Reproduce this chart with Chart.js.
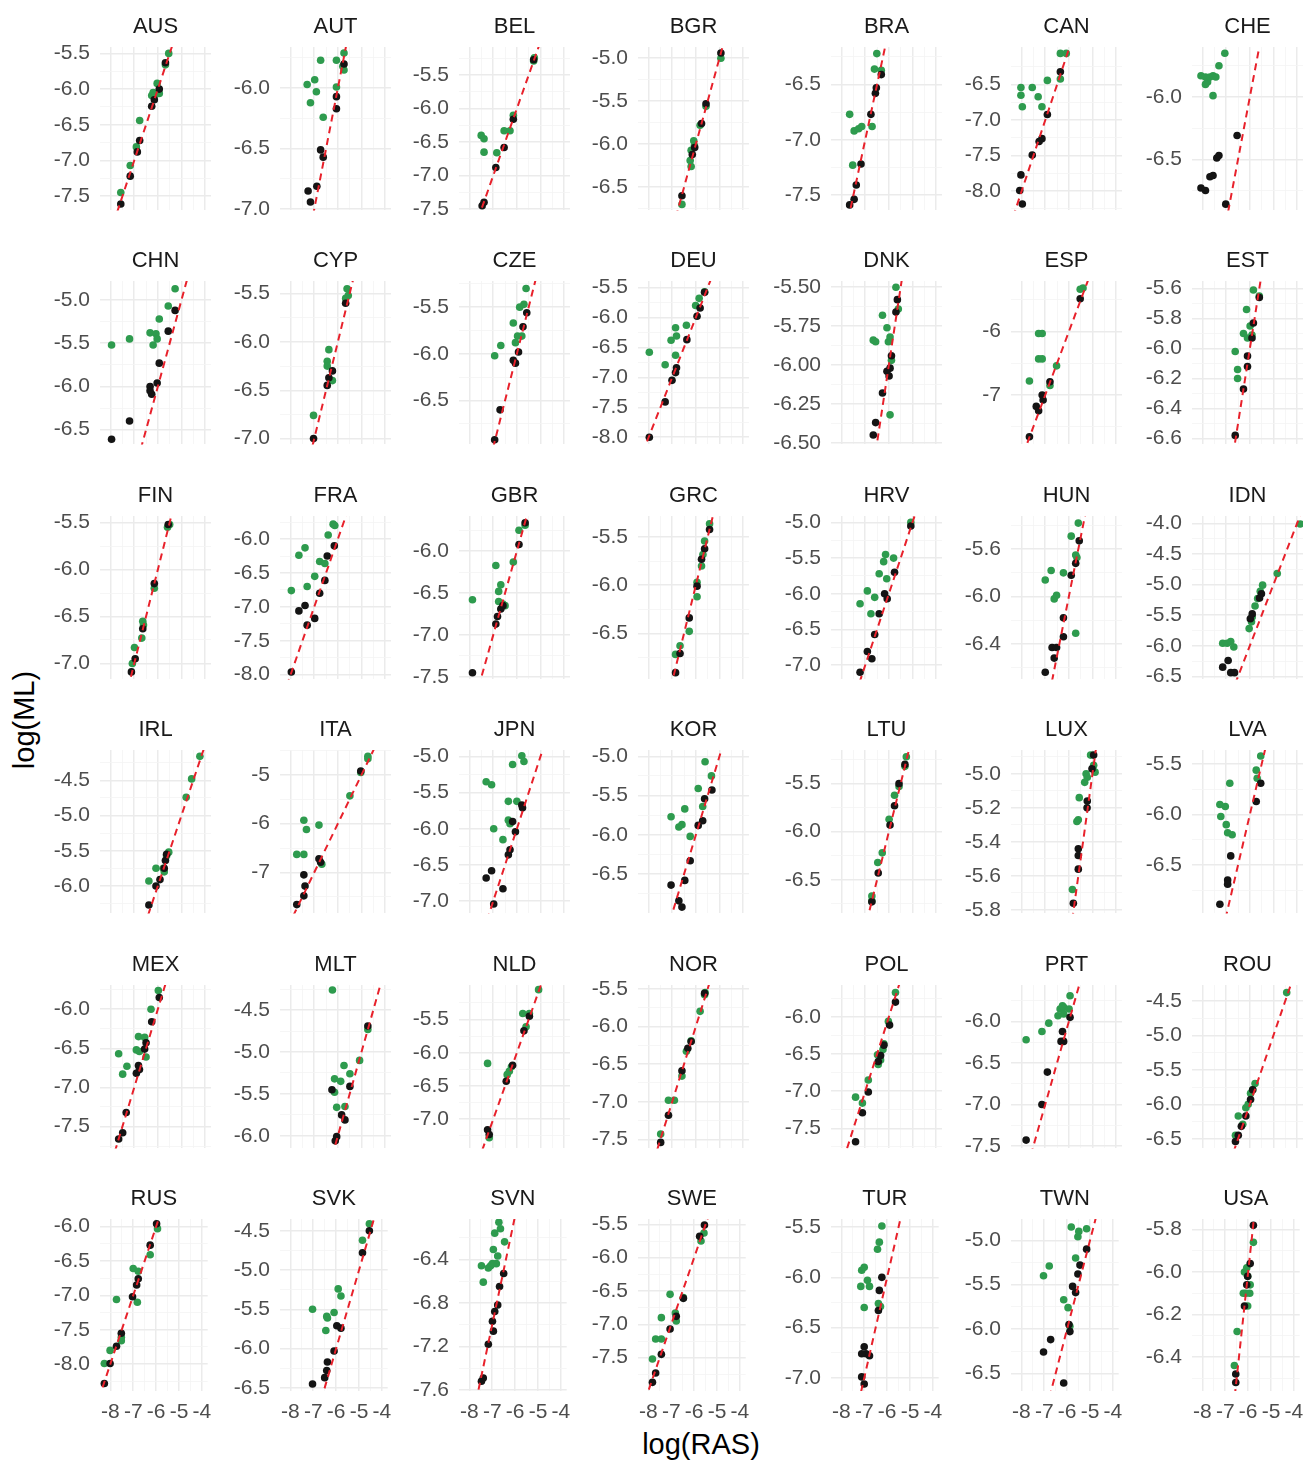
<!DOCTYPE html>
<html>
<head>
<meta charset="utf-8">
<title>log(ML) vs log(RAS) by country</title>
<script src="https://cdn.jsdelivr.net/npm/chart.js@4.4.1/dist/chart.umd.min.js"></script>
<style>
  html, body { margin: 0; padding: 0; background: #ffffff; }
  #fig { position: relative; width: 1308px; height: 1463px; overflow: hidden; background: #ffffff; }
  #fig canvas { position: absolute; }
  .axis-title { position: absolute; font-family: "Liberation Sans", Arial, sans-serif; color: #000; font-size: 29px; white-space: nowrap; }
  #xTitle { left: 551px; width: 300px; top: 1428px; text-align: center; }
  #yTitle { left: 24px; top: 720px; transform: translate(-50%, -50%) rotate(-90deg); }
</style>
</head>
<body>
<div id="fig">
  <div id="xTitle" class="axis-title">log(RAS)</div>
  <div id="yTitle" class="axis-title">log(ML)</div>
</div>
<script>
// ---- data -----------------------------------------------------------------
const countries = ["AUS","AUT","BEL","BGR","BRA","CAN","CHE",
                   "CHN","CYP","CZE","DEU","DNK","ESP","EST",
                   "FIN","FRA","GBR","GRC","HRV","HUN","IDN",
                   "IRL","ITA","JPN","KOR","LTU","LUX","LVA",
                   "MEX","MLT","NLD","NOR","POL","PRT","ROU",
                   "RUS","SVK","SVN","SWE","TUR","TWN","USA"];

const xTickValues = [-8, -7, -6, -5, -4];
const xLimits = [-8.45, -3.75];

// y = x reference line
const parityLine = [-9, -3];

const yTickLabels = [
  ["-5.5","-6.0","-6.5","-7.0","-7.5"], ["-6.0","-6.5","-7.0"], ["-5.5","-6.0","-6.5","-7.0","-7.5"],
  ["-5.0","-5.5","-6.0","-6.5"], ["-6.5","-7.0","-7.5"], ["-6.5","-7.0","-7.5","-8.0"], ["-6.0","-6.5"],
  ["-5.0","-5.5","-6.0","-6.5"], ["-5.5","-6.0","-6.5","-7.0"], ["-5.5","-6.0","-6.5"],
  ["-5.5","-6.0","-6.5","-7.0","-7.5","-8.0"], ["-5.50","-5.75","-6.00","-6.25","-6.50"], ["-6","-7"],
  ["-5.6","-5.8","-6.0","-6.2","-6.4","-6.6"],
  ["-5.5","-6.0","-6.5","-7.0"], ["-6.0","-6.5","-7.0","-7.5","-8.0"], ["-6.0","-6.5","-7.0","-7.5"],
  ["-5.5","-6.0","-6.5"], ["-5.0","-5.5","-6.0","-6.5","-7.0"], ["-5.6","-6.0","-6.4"],
  ["-4.0","-4.5","-5.0","-5.5","-6.0","-6.5"],
  ["-4.5","-5.0","-5.5","-6.0"], ["-5","-6","-7"], ["-5.0","-5.5","-6.0","-6.5","-7.0"],
  ["-5.0","-5.5","-6.0","-6.5"], ["-5.5","-6.0","-6.5"], ["-5.0","-5.2","-5.4","-5.6","-5.8"], ["-5.5","-6.0","-6.5"],
  ["-6.0","-6.5","-7.0","-7.5"], ["-4.5","-5.0","-5.5","-6.0"], ["-5.5","-6.0","-6.5","-7.0"],
  ["-5.5","-6.0","-6.5","-7.0","-7.5"], ["-6.0","-6.5","-7.0","-7.5"], ["-6.0","-6.5","-7.0","-7.5"],
  ["-4.5","-5.0","-5.5","-6.0","-6.5"],
  ["-6.0","-6.5","-7.0","-7.5","-8.0"], ["-4.5","-5.0","-5.5","-6.0","-6.5"], ["-6.4","-6.8","-7.2","-7.6"],
  ["-5.5","-6.0","-6.5","-7.0","-7.5"], ["-5.5","-6.0","-6.5","-7.0"], ["-5.0","-5.5","-6.0","-6.5"],
  ["-5.8","-6.0","-6.2","-6.4"]
];

const yLimits = [
  [-7.70,-5.41], [-7.01,-5.66], [-7.52,-5.08], [-6.77,-4.87], [-7.64,-6.16], [-8.27,-5.97], [-6.91,-5.60],
  [-6.67,-4.78], [-7.06,-5.37], [-6.97,-5.22], [-8.12,-5.39], [-6.51,-5.46], [-7.78,-5.20], [-6.64,-5.55],
  [-7.17,-5.43], [-8.07,-5.66], [-7.53,-5.58], [-6.98,-5.28], [-7.20,-4.91], [-6.70,-5.32], [-6.55,-3.88],
  [-6.39,-4.07], [-7.84,-4.49], [-7.17,-4.91], [-7.00,-4.92], [-6.85,-5.15], [-5.82,-4.86], [-6.98,-5.36],
  [-7.78,-5.69], [-6.15,-4.20], [-7.44,-4.98], [-7.62,-5.45], [-7.77,-5.57], [-7.53,-5.56], [-6.64,-4.27],
  [-8.39,-5.89], [-6.54,-4.35], [-7.61,-6.03], [-8.00,-5.42], [-7.13,-5.42], [-6.70,-4.76], [-6.56,-5.75]
];

// green series: [log(RAS), log(ML)]
const greenPoints = [
  /* AUS */ [[-7.57,-7.45],[-7.17,-7.07],[-6.77,-6.44],[-6.91,-6.81],[-6.26,-6.09],[-6.2,-6.05],[-6.03,-5.92],[-5.94,-6.06],[-5.68,-5.66],[-5.54,-5.5],[-6.12,-6.08]],
  /* AUT */ [[-7.30,-5.97],[-6.98,-5.93],[-6.91,-6.03],[-7.16,-6.12],[-6.73,-5.77],[-6.62,-6.24],[-6.06,-5.77],[-6.06,-5.99],[-5.74,-5.71],[-5.74,-5.85],[-5.79,-5.82]],
  /* BEL */ [[-7.51,-6.40],[-7.39,-6.45],[-7.39,-6.65],[-6.85,-6.66],[-6.54,-6.33],[-6.29,-6.33],[-6.15,-6.10],[-5.29,-5.29],[-5.26,-5.24]],
  /* BGR */ [[-6.59,-6.70],[-6.09,-5.96],[-6.2,-6.07],[-6.24,-6.19],[-6.2,-6.26],[-5.82,-5.78],[-5.57,-5.56],[-4.94,-5.0],[-6.06,-6.02]],
  /* BRA */ [[-7.66,-6.77],[-7.47,-6.92],[-7.28,-6.90],[-7.15,-6.88],[-7.53,-7.23],[-6.71,-6.88],[-6.51,-6.22],[-6.61,-6.36],[-6.32,-6.37]],
  /* CAN */ [[-8.03,-6.65],[-8.03,-6.54],[-7.97,-6.81],[-7.55,-6.54],[-7.30,-6.67],[-7.14,-6.81],[-6.91,-6.44],[-6.36,-6.42],[-6.36,-6.06],[-6.11,-6.06]],
  /* CHE */ [[-8.07,-5.83],[-7.88,-5.84],[-7.79,-5.88],[-7.88,-5.90],[-7.69,-5.84],[-7.56,-5.83],[-7.44,-5.84],[-7.56,-5.99],[-7.31,-5.75],[-7.06,-5.65]],
  /* CHN */ [[-7.96,-5.52],[-7.20,-5.45],[-6.33,-5.38],[-6.20,-5.52],[-6.08,-5.39],[-6.03,-5.45],[-5.94,-5.22],[-5.56,-5.07],[-5.27,-4.87]],
  /* CYP */ [[-7.03,-6.76],[-6.38,-6.08],[-6.45,-6.2],[-6.45,-6.25],[-6.23,-6.4],[-5.61,-5.45],[-5.56,-5.52],[-5.67,-5.55]],
  /* CZE */ [[-6.94,-6.02],[-6.68,-5.91],[-6.15,-5.67],[-6.06,-5.88],[-5.97,-5.81],[-5.88,-5.5],[-5.70,-5.47],[-5.61,-5.30],[-5.79,-5.81]],
  /* DEU */ [[-7.97,-6.58],[-7.30,-6.79],[-7.05,-6.38],[-6.86,-6.17],[-6.82,-6.31],[-6.86,-6.63],[-6.40,-6.13],[-6.01,-5.80],[-5.86,-5.68],[-5.63,-5.57]],
  /* DNK */ [[-5.70,-5.50],[-6.27,-5.68],[-6.08,-5.76],[-6.66,-5.84],[-6.56,-5.85],[-6.02,-5.85],[-5.95,-5.82],[-5.60,-5.64],[-5.89,-5.97],[-5.95,-6.32]],
  /* ESP */ [[-7.67,-6.78],[-7.28,-6.03],[-7.13,-6.03],[-7.28,-6.43],[-7.13,-6.43],[-6.52,-6.54],[-6.80,-6.85],[-5.52,-5.33],[-5.40,-5.31]],
  /* EST */ [[-5.85,-5.61],[-5.60,-5.65],[-6.14,-5.74],[-5.99,-5.85],[-6.27,-5.90],[-6.10,-5.93],[-6.62,-6.02],[-6.52,-6.14],[-6.52,-6.20],[-5.91,-5.91]],
  /* FIN */ [[-7.08,-7.0],[-6.99,-6.83],[-6.68,-6.73],[-6.64,-6.55],[-6.61,-6.59],[-6.15,-6.2],[-5.59,-5.55],[-5.50,-5.52]],
  /* FRA */ [[-7.97,-6.76],[-7.65,-6.24],[-7.39,-6.13],[-7.30,-6.70],[-6.98,-6.55],[-6.77,-6.33],[-6.55,-6.36],[-6.41,-5.94],[-6.2,-5.78],[-6.13,-5.80]],
  /* GBR */ [[-7.88,-6.58],[-6.89,-6.17],[-6.77,-6.48],[-6.68,-6.40],[-6.77,-6.60],[-6.59,-6.63],[-6.5,-6.65],[-6.15,-6.13],[-5.91,-5.75],[-5.65,-5.69]],
  /* GRC */ [[-6.86,-6.72],[-6.67,-6.63],[-6.28,-6.48],[-5.95,-5.97],[-5.95,-6.12],[-5.76,-5.80],[-5.70,-5.68],[-5.63,-5.54],[-5.42,-5.36]],
  /* HRV */ [[-7.22,-6.14],[-6.91,-5.96],[-6.60,-6.05],[-6.76,-6.28],[-6.41,-5.72],[-6.22,-5.55],[-6.14,-5.45],[-6.09,-5.79],[-5.80,-5.5],[-5.07,-5.0]],
  /* HUN */ [[-7.0,-5.86],[-6.75,-5.78],[-6.62,-6.02],[-6.52,-5.99],[-6.23,-5.80],[-5.90,-5.49],[-5.71,-5.65],[-5.60,-5.38],[-5.71,-6.31],[-5.66,-5.67]],
  /* IDN */ [[-7.15,-5.96],[-6.96,-5.96],[-6.81,-5.93],[-6.68,-6.02],[-6.03,-5.72],[-5.93,-5.61],[-5.90,-5.53],[-5.78,-5.35],[-5.67,-5.23],[-5.56,-5.11],[-5.46,-5.01],[-4.84,-4.82],[-3.87,-4.01]],
  /* IRL */ [[-6.38,-5.93],[-6.08,-5.75],[-5.77,-5.75],[-5.73,-5.80],[-5.54,-5.52],[-5.63,-5.57],[-4.80,-4.74],[-4.57,-4.48],[-4.22,-4.16]],
  /* ITA */ [[-7.74,-6.63],[-7.44,-6.63],[-7.44,-5.93],[-7.33,-6.12],[-6.80,-6.03],[-6.68,-6.83],[-5.49,-5.43],[-5.03,-4.95],[-4.73,-4.62],[-4.73,-4.67]],
  /* JPN */ [[-7.30,-5.35],[-7.07,-5.39],[-6.98,-6.0],[-6.59,-6.15],[-6.36,-5.62],[-6.36,-5.88],[-6.29,-5.93],[-6.18,-5.11],[-6.0,-5.62],[-5.79,-4.99],[-5.70,-5.07]],
  /* KOR */ [[-7.05,-5.77],[-6.72,-5.9],[-6.59,-5.87],[-6.47,-5.67],[-6.24,-6.02],[-5.90,-5.41],[-5.71,-5.64],[-5.61,-5.07],[-5.34,-5.25]],
  /* LTU */ [[-6.72,-6.67],[-6.72,-6.72],[-6.47,-6.32],[-6.28,-6.22],[-5.99,-5.87],[-5.76,-5.62],[-5.57,-5.53],[-5.32,-5.32],[-5.26,-5.22]],
  /* LUX */ [[-5.85,-5.68],[-5.60,-5.27],[-5.56,-5.14],[-5.33,-5.05],[-5.27,-5.0],[-5.22,-5.02],[-5.08,-4.89],[-4.99,-4.97],[-4.95,-4.95],[-4.89,-4.99],[-5.66,-5.28]],
  /* LVA */ [[-7.27,-5.90],[-7.04,-5.92],[-7.23,-6.02],[-7.0,-6.10],[-6.94,-6.18],[-6.75,-6.20],[-6.85,-5.69],[-5.73,-5.56],[-5.54,-5.42],[-5.69,-5.64]],
  /* MEX */ [[-7.66,-6.57],[-7.49,-6.83],[-7.31,-6.73],[-6.91,-6.52],[-6.82,-6.35],[-6.78,-6.54],[-6.56,-6.36],[-6.50,-6.61],[-6.29,-6.0],[-5.98,-5.76]],
  /* MLT */ [[-6.23,-4.26],[-6.14,-5.32],[-5.88,-5.35],[-5.74,-5.16],[-5.49,-5.26],[-5.08,-5.10],[-6.14,-5.48],[-6.05,-5.66],[-5.70,-5.65],[-4.73,-4.73]],
  /* NLD */ [[-7.24,-6.16],[-7.17,-7.28],[-6.41,-6.33],[-6.23,-6.21],[-5.75,-5.41],[-5.47,-5.41],[-5.61,-5.61],[-5.08,-5.05],[-6.32,-6.28]],
  /* NOR */ [[-7.49,-7.43],[-7.16,-6.98],[-6.91,-6.98],[-6.59,-6.66],[-6.40,-6.33],[-6.20,-6.19],[-5.82,-5.80],[-5.61,-5.55],[-5.63,-5.58]],
  /* POL */ [[-7.41,-7.08],[-7.12,-7.16],[-6.87,-6.85],[-6.48,-6.51],[-6.45,-6.64],[-6.21,-6.36],[-6.02,-6.06],[-5.72,-5.67],[-6.35,-6.58],[-6.25,-6.44]],
  /* PRT */ [[-7.81,-6.22],[-7.14,-6.12],[-6.85,-6.02],[-6.46,-5.93],[-6.37,-5.85],[-6.22,-5.83],[-6.22,-5.91],[-5.99,-5.85],[-5.95,-5.69],[-6.27,-5.81]],
  /* ROU */ [[-6.61,-6.45],[-6.49,-6.17],[-6.30,-6.29],[-6.17,-6.05],[-6.07,-6.0],[-5.97,-5.84],[-5.88,-5.79],[-5.78,-5.70],[-4.44,-4.38]],
  /* RUS */ [[-8.26,-7.99],[-8.01,-7.80],[-7.73,-7.06],[-7.52,-7.61],[-7.52,-7.66],[-7.0,-6.61],[-6.78,-6.65],[-6.82,-7.10],[-6.26,-6.41],[-5.94,-6.03]],
  /* SVK */ [[-7.03,-5.50],[-6.41,-5.59],[-6.09,-5.54],[-6.45,-5.77],[-5.91,-5.24],[-5.79,-5.33],[-4.85,-4.62],[-4.55,-4.41],[-6.38,-5.61]],
  /* SVN */ [[-7.47,-6.46],[-7.17,-6.48],[-7.07,-6.46],[-7.39,-6.61],[-6.95,-6.31],[-6.89,-6.16],[-6.71,-6.06],[-6.64,-6.12],[-6.46,-6.24],[-6.76,-6.37],[-6.82,-6.44],[-6.99,-6.44]],
  /* SWE */ [[-7.82,-7.52],[-7.68,-7.22],[-7.43,-7.22],[-7.43,-6.90],[-7.05,-6.55],[-6.82,-6.83],[-6.78,-6.95],[-6.47,-6.60],[-5.70,-5.75],[-5.57,-5.63]],
  /* TUR */ [[-7.11,-5.93],[-7.0,-5.90],[-7.15,-6.09],[-6.86,-6.03],[-6.77,-6.09],[-7.0,-6.30],[-6.42,-5.72],[-6.34,-5.65],[-6.23,-5.49],[-6.38,-6.26],[-6.29,-6.29]],
  /* TWN */ [[-7.03,-5.40],[-6.78,-5.29],[-6.15,-5.67],[-5.96,-5.76],[-5.88,-5.97],[-5.82,-4.85],[-5.63,-5.20],[-5.53,-4.96],[-5.49,-4.90],[-5.15,-4.87]],
  /* USA */ [[-6.48,-6.28],[-6.60,-6.44],[-6.16,-6.0],[-6.06,-5.98],[-6.10,-6.10],[-6.02,-6.02],[-5.93,-6.10],[-6.02,-6.16],[-5.77,-5.86],[-5.91,-6.06],[-6.21,-6.10]]
];

// black series: [log(RAS), log(ML)]
const blackPoints = [
  /* AUS */ [[-7.57,-7.61],[-7.17,-7.22],[-6.87,-6.88],[-6.77,-6.72],[-6.26,-6.24],[-6.15,-6.15],[-5.94,-6.0],[-5.68,-5.63]],
  /* AUT */ [[-7.26,-6.85],[-7.16,-6.94],[-6.89,-6.81],[-6.73,-6.51],[-6.62,-6.57],[-6.06,-6.07],[-6.06,-6.17],[-5.74,-5.80]],
  /* BEL */ [[-7.47,-7.45],[-7.39,-7.40],[-6.89,-6.88],[-6.54,-6.58],[-6.15,-6.16],[-5.29,-5.27]],
  /* BGR */ [[-6.59,-6.60],[-6.05,-6.04],[-6.15,-6.12],[-5.76,-5.76],[-5.57,-5.53],[-4.94,-4.94]],
  /* BRA */ [[-7.66,-7.59],[-7.47,-7.54],[-7.38,-7.41],[-7.18,-7.22],[-6.76,-6.77],[-6.57,-6.58],[-6.53,-6.53],[-6.32,-6.41]],
  /* CAN */ [[-8.03,-7.77],[-8.08,-7.99],[-7.97,-8.18],[-7.55,-7.49],[-7.26,-7.30],[-7.14,-7.26],[-6.91,-6.92],[-6.36,-6.32]],
  /* CHE */ [[-8.07,-6.73],[-7.88,-6.75],[-7.69,-6.64],[-7.56,-6.63],[-7.40,-6.49],[-7.31,-6.47],[-7.02,-6.86],[-6.54,-6.31]],
  /* CHN */ [[-7.96,-6.61],[-7.20,-6.40],[-6.33,-6.0],[-6.33,-6.05],[-6.26,-6.09],[-6.03,-5.96],[-5.94,-5.73],[-5.56,-5.36],[-5.27,-5.12]],
  /* CYP */ [[-7.03,-7.0],[-6.45,-6.45],[-6.38,-6.37],[-6.23,-6.30],[-5.67,-5.60]],
  /* CZE */ [[-6.94,-6.92],[-6.71,-6.60],[-6.15,-6.07],[-6.06,-6.10],[-5.93,-5.98],[-5.74,-5.71],[-5.58,-5.56]],
  /* DEU */ [[-7.97,-8.0],[-7.30,-7.41],[-7.01,-7.05],[-6.86,-6.92],[-6.82,-6.84],[-6.38,-6.37],[-5.95,-5.98],[-5.82,-5.84],[-5.63,-5.58]],
  /* DNK */ [[-5.64,-5.58],[-5.70,-5.66],[-5.89,-5.94],[-5.95,-6.02],[-6.08,-6.04],[-5.99,-6.07],[-6.27,-6.18],[-6.56,-6.37],[-6.66,-6.45]],
  /* ESP */ [[-7.67,-7.66],[-7.38,-7.18],[-7.28,-7.25],[-7.13,-7.0],[-7.09,-7.08],[-6.80,-6.79],[-5.52,-5.48]],
  /* EST */ [[-5.60,-5.66],[-5.85,-5.83],[-5.91,-5.93],[-6.10,-6.05],[-6.10,-6.12],[-6.27,-6.27],[-6.62,-6.58]],
  /* FIN */ [[-7.12,-7.09],[-6.96,-6.95],[-6.64,-6.63],[-6.15,-6.15],[-5.56,-5.52]],
  /* FRA */ [[-7.97,-7.96],[-7.65,-7.06],[-7.39,-6.98],[-7.30,-7.27],[-6.98,-7.17],[-6.77,-6.80],[-6.55,-6.61],[-6.45,-6.25],[-6.15,-6.10]],
  /* GBR */ [[-7.88,-7.45],[-6.89,-6.87],[-6.82,-6.78],[-6.68,-6.69],[-6.59,-6.65],[-5.91,-5.92],[-5.65,-5.66]],
  /* GRC */ [[-6.86,-6.91],[-6.67,-6.71],[-6.28,-6.34],[-5.95,-6.01],[-5.76,-5.73],[-5.63,-5.62],[-5.42,-5.42]],
  /* HRV */ [[-7.22,-7.1],[-6.91,-6.81],[-6.72,-6.91],[-6.60,-6.57],[-6.41,-6.28],[-6.18,-6.0],[-6.07,-6.07],[-5.76,-5.70],[-5.07,-5.05]],
  /* HUN */ [[-7.0,-6.64],[-6.71,-6.43],[-6.52,-6.43],[-6.62,-6.52],[-6.23,-6.18],[-6.23,-6.34],[-5.90,-5.82],[-5.71,-5.72],[-5.56,-5.53]],
  /* IDN */ [[-7.15,-6.35],[-6.92,-6.24],[-6.81,-6.44],[-6.65,-6.44],[-5.98,-5.56],[-5.90,-5.48],[-5.59,-5.22],[-5.51,-5.15]],
  /* IRL */ [[-6.38,-6.27],[-6.08,-6.0],[-5.91,-5.91],[-5.73,-5.75],[-5.68,-5.64],[-5.63,-5.55]],
  /* ITA */ [[-7.74,-7.66],[-7.44,-7.05],[-7.39,-7.28],[-7.44,-7.48],[-6.80,-6.72],[-6.73,-6.79],[-5.03,-4.92]],
  /* JPN */ [[-7.30,-6.68],[-7.07,-6.58],[-6.59,-6.83],[-6.98,-7.04],[-6.36,-6.36],[-6.29,-6.29],[-6.18,-5.90],[-6.06,-6.04],[-5.79,-5.67],[-5.76,-5.71]],
  /* KOR */ [[-7.05,-6.64],[-6.72,-6.84],[-6.59,-6.92],[-6.47,-6.58],[-6.24,-6.33],[-5.90,-5.88],[-5.71,-5.82],[-5.63,-5.54],[-5.32,-5.43]],
  /* LTU */ [[-6.72,-6.73],[-6.45,-6.43],[-5.95,-5.93],[-5.76,-5.73],[-5.57,-5.50],[-5.32,-5.30]],
  /* LUX */ [[-5.81,-5.76],[-5.60,-5.44],[-5.60,-5.48],[-5.60,-5.56],[-5.22,-5.16],[-5.23,-5.2],[-5.02,-4.97],[-4.95,-4.89]],
  /* LVA */ [[-6.81,-6.41],[-6.94,-6.65],[-6.94,-6.69],[-7.27,-6.89],[-5.73,-5.87],[-5.54,-5.69]],
  /* MEX */ [[-7.66,-7.66],[-7.49,-7.58],[-7.34,-7.32],[-6.91,-6.82],[-6.82,-6.72],[-6.78,-6.77],[-6.56,-6.51],[-6.50,-6.43],[-6.26,-6.16],[-5.94,-5.85]],
  /* MLT */ [[-6.25,-5.45],[-5.84,-5.75],[-5.70,-5.81],[-5.49,-5.41],[-6.11,-6.06],[-6.05,-6.01],[-4.73,-4.69]],
  /* NLD */ [[-7.24,-7.16],[-7.17,-7.23],[-6.45,-6.43],[-6.18,-6.19],[-5.70,-5.67],[-5.47,-5.45]],
  /* NOR */ [[-7.49,-7.54],[-7.16,-7.18],[-6.59,-6.59],[-6.34,-6.29],[-6.20,-6.20],[-5.63,-5.56]],
  /* POL */ [[-7.41,-7.68],[-7.12,-7.29],[-6.87,-7.01],[-6.45,-6.60],[-6.35,-6.52],[-6.21,-6.38],[-5.97,-6.11],[-5.72,-5.80]],
  /* PRT */ [[-7.81,-7.43],[-7.14,-7.0],[-6.91,-6.61],[-6.27,-6.12],[-6.33,-6.24],[-6.22,-6.24],[-5.95,-5.95]],
  /* ROU */ [[-6.61,-6.54],[-6.49,-6.45],[-6.36,-6.32],[-6.17,-6.17],[-5.97,-5.93],[-5.88,-5.79]],
  /* RUS */ [[-8.26,-8.28],[-8.01,-7.99],[-7.73,-7.74],[-7.52,-7.55],[-7.03,-7.02],[-6.85,-6.85],[-6.78,-6.76],[-6.26,-6.27],[-5.98,-5.96]],
  /* SVK */ [[-7.03,-6.45],[-6.50,-6.37],[-6.41,-6.28],[-6.38,-6.17],[-6.09,-6.03],[-5.97,-5.71],[-5.79,-5.74],[-4.85,-4.78],[-4.55,-4.50]],
  /* SVN */ [[-7.47,-7.52],[-7.39,-7.49],[-7.17,-7.18],[-6.95,-7.06],[-6.99,-6.97],[-6.89,-6.88],[-6.76,-6.82],[-6.68,-6.65],[-6.50,-6.53]],
  /* SWE */ [[-7.82,-7.87],[-7.68,-7.73],[-7.43,-7.45],[-7.05,-7.07],[-6.78,-6.88],[-6.47,-6.61],[-5.76,-5.68],[-5.55,-5.51]],
  /* TUR */ [[-7.11,-6.99],[-7.0,-7.06],[-7.0,-6.69],[-6.92,-6.76],[-7.11,-6.76],[-6.77,-6.78],[-6.38,-6.33],[-6.34,-6.13],[-6.23,-6.0]],
  /* TWN */ [[-7.03,-6.26],[-6.72,-6.12],[-6.15,-6.61],[-5.92,-5.95],[-5.88,-6.03],[-5.76,-5.52],[-5.63,-5.59],[-5.53,-5.38],[-5.44,-5.28],[-5.15,-5.10]],
  /* USA */ [[-6.54,-6.48],[-6.54,-6.52],[-6.16,-6.16],[-6.06,-6.06],[-6.02,-6.02],[-5.91,-5.96],[-5.77,-5.78]]
];

// ---- layout ---------------------------------------------------------------
const FONT = '"Liberation Sans", Arial, Helvetica, sans-serif';
const COL_LEFT = [100, 280, 459, 638, 831, 1011, 1192];   // plot-area left edge per column
const ROW_TOP  = [47, 281, 516, 750, 985, 1219];          // plot-area top edge per row
const PANEL_W = 111, PANEL_H = 172;
const AXIS_W = 64;      // room for y tick labels
const TITLE_H = 36;     // strip title band
const PAD_R = 10, PAD_B = 14, XAXIS_H = 36;

const COLORS = {
  green: '#2E9B4E',
  black: '#141414',
  red: '#E8212B',
  gridMajor: '#EBEBEB',
  gridMinor: '#F4F4F4',
  tick: '#4D4D4D',
  strip: '#1A1A1A'
};

const keyOf = v => Number(v).toFixed(3);

function gridColor(ctx) { return ctx.tick && ctx.tick.isMajor ? COLORS.gridMajor : COLORS.gridMinor; }
function gridWidth(ctx) { return ctx.tick && ctx.tick.isMajor ? 1.5 : 0.8; }

function buildYTicks(labels, lim) {
  const vals = labels.map(Number).sort((a, b) => a - b);
  const step = vals.length > 1 ? vals[1] - vals[0] : 0.5;
  const out = vals.map(v => ({ value: v, isMajor: true }));
  const first = vals[0], last = vals[vals.length - 1];
  for (let v = first - step / 2; v <= last + step / 2 + 1e-9; v += step) {
    if (v >= lim[0] && v <= lim[1]) out.push({ value: v, isMajor: false });
  }
  return out.sort((a, b) => a.value - b.value);
}

function buildXTicks() {
  const out = xTickValues.map(v => ({ value: v, isMajor: true }));
  for (let i = 0; i < xTickValues.length - 1; i++) {
    out.push({ value: (xTickValues[i] + xTickValues[i + 1]) / 2, isMajor: false });
  }
  return out.sort((a, b) => a.value - b.value);
}

const fig = document.getElementById('fig');
const xTickList = buildXTicks();
const xLabelMap = {};
xTickValues.forEach(v => { xLabelMap[keyOf(v)] = String(v); });

countries.forEach((code, i) => {
  const r = Math.floor(i / 7), c = i % 7;
  const isBottom = r === 5;
  const w = AXIS_W + PANEL_W + PAD_R;
  const h = TITLE_H + PANEL_H + (isBottom ? XAXIS_H : PAD_B);

  const canvas = document.createElement('canvas');
  canvas.width = w; canvas.height = h;
  canvas.style.width = w + 'px'; canvas.style.height = h + 'px';
  canvas.style.left = (COL_LEFT[c] - AXIS_W) + 'px';
  canvas.style.top = (ROW_TOP[r] - TITLE_H) + 'px';
  fig.appendChild(canvas);

  const lim = yLimits[i];
  const yTickList = buildYTicks(yTickLabels[i], lim);
  const yLabelMap = {};
  yTickLabels[i].forEach(s => { yLabelMap[keyOf(Number(s))] = s; });

  new Chart(canvas, {
    type: 'scatter',
    data: {
      datasets: [
        {
          type: 'line',
          data: parityLine.map(v => ({ x: v, y: v })),
          borderColor: COLORS.red,
          borderWidth: 2,
          borderDash: [7, 5],
          pointRadius: 0,
          fill: false,
          order: 0
        },
        {
          data: blackPoints[i].map(p => ({ x: p[0], y: p[1] })),
          backgroundColor: COLORS.black,
          borderWidth: 0,
          pointRadius: 3.8,
          order: 1
        },
        {
          data: greenPoints[i].map(p => ({ x: p[0], y: p[1] })),
          backgroundColor: COLORS.green,
          borderWidth: 0,
          pointRadius: 3.8,
          order: 2
        }
      ]
    },
    options: {
      responsive: false,
      animation: false,
      devicePixelRatio: 1,
      events: [],
      layout: { padding: { left: 0, right: PAD_R, top: 0, bottom: isBottom ? 0 : PAD_B } },
      plugins: {
        legend: { display: false },
        tooltip: { enabled: false },
        title: {
          display: true,
          text: code,
          fullSize: false,
          color: COLORS.strip,
          font: { family: FONT, size: 22, weight: 'normal', lineHeight: '24px' },
          padding: { top: 4, bottom: 8 }
        }
      },
      scales: {
        x: {
          type: 'linear',
          min: xLimits[0], max: xLimits[1],
          border: { display: false },
          grid: { drawTicks: false, color: gridColor, lineWidth: gridWidth },
          ticks: {
            display: isBottom,
            autoSkip: false,
            maxRotation: 0, minRotation: 0,
            padding: 9,
            color: COLORS.tick,
            font: { family: FONT, size: 21 },
            callback: v => xLabelMap[keyOf(v)] || ''
          },
          afterBuildTicks: sc => { sc.ticks = xTickList.map(t => ({ ...t })); },
          afterFit: sc => { sc.height = isBottom ? XAXIS_H : 0; }
        },
        y: {
          type: 'linear',
          min: lim[0], max: lim[1],
          border: { display: false },
          grid: { drawTicks: false, color: gridColor, lineWidth: gridWidth },
          ticks: {
            autoSkip: false,
            padding: 10,
            color: COLORS.tick,
            font: { family: FONT, size: 21 },
            callback: v => yLabelMap[keyOf(v)] || ''
          },
          afterBuildTicks: sc => { sc.ticks = yTickList.map(t => ({ ...t })); },
          afterFit: sc => { sc.width = AXIS_W; }
        }
      }
    }
  });
});
</script>
</body>
</html>
